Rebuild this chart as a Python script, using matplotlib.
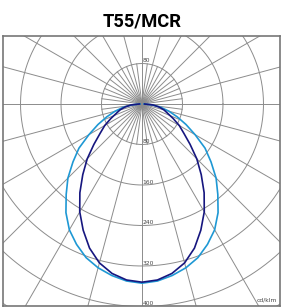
"""Polar light distribution of the T55/MCR luminaire."""

import numpy as np
import matplotlib.pyplot as plt

# gamma angles (deg from nadir) and intensities (cd/klm), symmetric both sides
gamma = [0, 5, 10, 15, 20, 25, 30, 35, 40, 45, 50, 55, 60, 65, 70, 75, 80, 85, 90]
c0_c180 = [354, 351, 344, 335, 323, 306, 287, 262, 233, 207, 178, 152, 121, 96, 74, 55, 38, 20, 4]
c90_c270 = [352, 349, 340, 325, 303, 275, 246, 214, 182, 153, 124, 101, 85, 68, 54, 45, 34, 22, 5]
ring_values = [80, 160, 240, 320, 400]

fig = plt.figure(figsize=(2.85, 3.07), dpi=100)
ax = fig.add_axes([3 / 285, 1 / 307, 277 / 285, 270 / 307])

scale = 0.5062  # px per cd
x0 = -139 / scale
x1 = 138 / scale
y1 = 68 / scale
y0 = y1 - 270 / scale
ax.set_xlim(x0, x1)
ax.set_ylim(y0, y1)
ax.set_aspect("equal")

grid_kw = dict(color="#8c8c8c", lw=0.7, zorder=1)

# rings
t = np.linspace(0, 2 * np.pi, 400)
for r in range(80, 720, 80):
    ax.plot(r * np.cos(t), r * np.sin(t), **grid_kw)

# spokes: every 15 deg full length, extra ones inside first ring
for a in np.arange(0, 360, 15):
    ar = np.radians(a)
    ax.plot([0, 800 * np.cos(ar)], [0, 800 * np.sin(ar)], **grid_kw)
for a in np.arange(7.5, 360, 15):
    ar = np.radians(a)
    ax.plot([0, 80 * np.cos(ar)], [0, 80 * np.sin(ar)], **grid_kw)

# ring labels
lab_kw = dict(fontsize=4.3, color="#444444", ha="left", va="center", zorder=2)
ax.text(1, 85, "80", **lab_kw)
for r in ring_values:
    ax.text(1, -r + 5, str(r), **lab_kw)
ax.text(x1 - 5, -387, "cd/klm", fontsize=4.3, color="#444444",
        ha="right", va="center")

# curves
g = np.radians(gamma)
g_full = np.concatenate([-g[::-1], g[1:]])
for vals, col in [(c0_c180, "#1e98d4"), (c90_c270, "#16167f")]:
    v = np.array(vals, dtype=float)
    v_full = np.concatenate([v[::-1], v[1:]])
    ax.plot(v_full * np.sin(g_full), -v_full * np.cos(g_full),
            color=col, lw=1.2, zorder=3, solid_joinstyle="round")

ax.set_xticks([])
ax.set_yticks([])
for s in ax.spines.values():
    s.set_color("#777777")
    s.set_linewidth(1.2)

fig.text(0.498, 1 - 21 / 307, "T55/MCR", ha="center", va="center",
         fontsize=13.2, fontweight="bold", family="Roboto")

fig.savefig("out.png", dpi=100)
